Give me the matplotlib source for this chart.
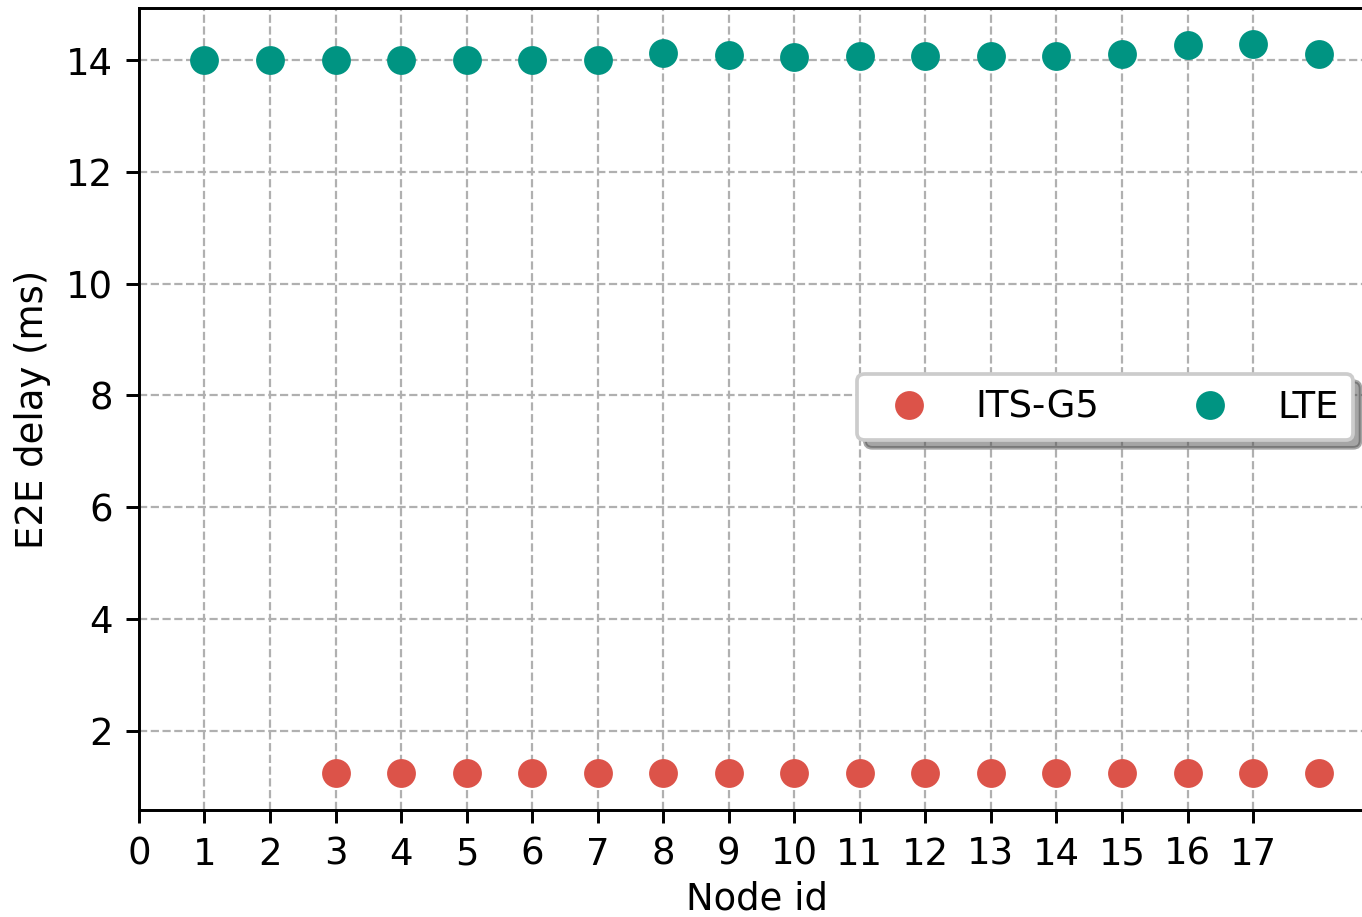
import matplotlib.pyplot as plt

node_ids = list(range(1, 19))
its_g5_nodes = list(range(3, 19))
its_g5_delay = [1.25] * 16
lte_delay = [14.0, 14.0, 14.0, 14.0, 14.0, 14.0, 14.0, 14.13, 14.09,
             14.06, 14.07, 14.07, 14.07, 14.08, 14.12, 14.27, 14.29, 14.12]
xticks = list(range(0, 18))

dpi = 266
fig = plt.figure(figsize=(1362 / dpi, 917 / dpi), dpi=dpi)
# axes run slightly past the right edge, as in the cropped original
ax = fig.add_axes([0.102, 0.1167, 0.9075, 0.8743])

ax.plot(its_g5_nodes, its_g5_delay, 'o', color='#dc5349', markersize=6.8, label='ITS-G5', zorder=3)
ax.plot(node_ids, lte_delay, 'o', color='#009482', markersize=6.8, label='LTE', zorder=3)

ax.set_xlim(0, 18.86)
ax.set_ylim(0.58, 14.93)
ax.set_xticks(xticks)
ax.set_yticks([2, 4, 6, 8, 10, 12, 14])
ax.grid(True, linestyle='--', color='#b0b0b0', linewidth=0.6)
ax.set_axisbelow(True)
ax.set_xlabel('Node id', labelpad=2)
ax.set_ylabel('E2E delay (ms)')

ax.legend(loc='center left', bbox_to_anchor=(0.616, 0.556), bbox_transform=fig.transFigure,
          ncol=2, shadow=True, fancybox=True, handletextpad=0.8, columnspacing=2.0)

fig.savefig('out.png', dpi=dpi)
